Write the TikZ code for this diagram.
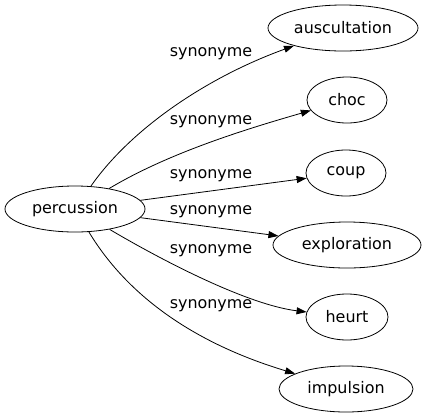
\documentclass[tikz,border=0pt]{standalone}
\usepackage{fontspec}
\setmainfont{DejaVu Sans}
\usetikzlibrary{shapes.geometric,arrows.meta}

\begin{document}
\begin{tikzpicture}[x=1bp,y=-1bp,
  word/.style={draw,ellipse,inner sep=0pt,line width=.8bp,minimum height=46bp,font=\fontsize{16}{18}\selectfont},
  rel/.style={font=\fontsize{16}{18}\selectfont,inner sep=0pt},
  syn/.style={line width=.8bp,-{Triangle[length=10bp,width=7bp]}}]
  \useasboundingbox (0,0) rectangle (429,419);
  \node[word,minimum width=140bp] (percussion) at (75,209) {percussion};
  \node[word,minimum width=150bp] (auscultation) at (343,28) {auscultation};
  \node[word,minimum width=80bp] (choc) at (347,100) {choc};
  \node[word,minimum width=80bp] (coup) at (346,173) {coup};
  \node[word,minimum width=148bp] (exploration) at (347,245) {exploration};
  \node[word,minimum width=82bp] (heurt) at (347,317) {heurt};
  \node[word,minimum width=134bp] (impulsion) at (346,389) {impulsion};
  % edge labels
  \node[rel] (l1) at (211,54) {synonyme};
  \node[rel] (l2) at (211,122) {synonyme};
  \node[rel] (l3) at (211,176) {synonyme};
  \node[rel] (l4) at (211,212) {synonyme};
  \node[rel] (l5) at (211,251) {synonyme};
  \node[rel] (l6) at (211,306) {synonyme};
  % edges
  \draw[syn] (percussion) .. controls (130,130) and (205,78) .. (auscultation);
  \draw[syn] (percussion) .. controls (170,152) and (250,128) .. (choc);
  \draw[syn] (percussion) -- (coup);
  \draw[syn] (percussion) -- (exploration);
  \draw[syn] (percussion) .. controls (170,265) and (250,305) .. (heurt);
  \draw[syn] (percussion) .. controls (130,300) and (200,345) .. (impulsion);
\end{tikzpicture}
\end{document}
